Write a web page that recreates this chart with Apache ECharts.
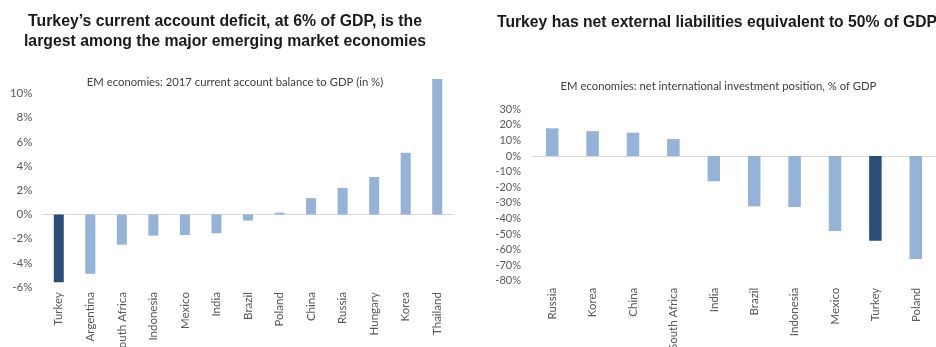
<!DOCTYPE html>
<html>
<head>
<meta charset="utf-8">
<script src="https://cdn.jsdelivr.net/npm/echarts@6/dist/echarts.min.js"></script>
<style>
  html, body { margin: 0; padding: 0; background: #ffffff; }
  #chart { width: 936px; height: 347px; }
</style>
</head>
<body>
<div id="chart"></div>
<script>
// Panel 1: 2017 current account balance, % of GDP
const caCountries = ['Turkey', 'Argentina', 'South Africa', 'Indonesia', 'Mexico', 'India',
  'Brazil', 'Poland', 'China', 'Russia', 'Hungary', 'Korea', 'Thailand'];
const caValues = [-5.6, -4.9, -2.5, -1.75, -1.7, -1.55, -0.5, 0.15, 1.35, 2.2, 3.1, 5.1, 11.2];
const caTicks = [-6, -4, -2, 0, 2, 4, 6, 8, 10];

// Panel 2: net international investment position, % of GDP
const niipCountries = ['Russia', 'Korea', 'China', 'South Africa', 'India', 'Brazil',
  'Indonesia', 'Mexico', 'Turkey', 'Poland'];
const niipValues = [17.8, 16.0, 15.0, 10.9, -16.2, -32.3, -32.7, -48.1, -54.3, -66.1];
const niipTicks = [-80, -70, -60, -50, -40, -30, -20, -10, 0, 10, 20, 30];

const highlight = 'Turkey';
const DARK = '#2c4d75';
const LIGHT = '#95b3d7';
const LABEL_FONT = 'Lato, "Open Sans", sans-serif';
const TITLE_FONT = '"Liberation Sans", Arial, sans-serif';

function barData(names, values) {
  return values.map((v, i) => ({
    value: v,
    itemStyle: { color: names[i] === highlight ? DARK : LIGHT }
  }));
}

function tickFormatter(ticks) {
  return v => (ticks.indexOf(v) >= 0 ? v + '%' : '');
}

const chart = echarts.init(document.getElementById('chart'), null, { renderer: 'canvas' });

const catLabel = {
  rotate: 90,
  fontFamily: LABEL_FONT,
  fontSize: 11.5,
  color: '#595959'
};

chart.setOption({
  animation: false,
  backgroundColor: '#ffffff',
  grid: [
    { left: 43, top: 69.3, width: 410, height: 217.8, outerBoundsMode: 'none', containLabel: false },
    { left: 532, top: 109.3, width: 404, height: 171.4, outerBoundsMode: 'none', containLabel: false }
  ],
  xAxis: [
    // labels along the bottom of panel 1
    {
      type: 'category', gridIndex: 0, data: caCountries,
      axisLine: { show: false, onZero: false }, axisTick: { show: false },
      axisLabel: Object.assign({ margin: 5 }, catLabel)
    },
    // zero line of panel 1
    {
      type: 'category', gridIndex: 0, data: caCountries, position: 'bottom',
      axisLine: { show: true, onZero: true, lineStyle: { color: '#d9d9d9', width: 1 } },
      axisTick: { show: false }, axisLabel: { show: false }
    },
    {
      type: 'category', gridIndex: 1, data: niipCountries,
      axisLine: { show: false, onZero: false }, axisTick: { show: false },
      axisLabel: Object.assign({ margin: 7 }, catLabel)
    },
    {
      type: 'category', gridIndex: 1, data: niipCountries, position: 'bottom',
      axisLine: { show: true, onZero: true, lineStyle: { color: '#d9d9d9', width: 1 } },
      axisTick: { show: false }, axisLabel: { show: false }
    }
  ],
  yAxis: [
    {
      type: 'value', gridIndex: 0, min: -6, max: 12, interval: 2,
      axisLine: { show: false }, axisTick: { show: false }, splitLine: { show: false },
      axisLabel: {
        formatter: tickFormatter(caTicks), margin: 10.5,
        fontFamily: LABEL_FONT, fontSize: 11.5, color: '#595959',
        padding: [0, 0, 9, 0]
      }
    },
    {
      type: 'value', gridIndex: 1, min: -80, max: 30, interval: 10,
      axisLine: { show: false }, axisTick: { show: false }, splitLine: { show: false },
      axisLabel: {
        formatter: tickFormatter(niipTicks), margin: 11,
        fontFamily: LABEL_FONT, fontSize: 11, color: '#595959'
      }
    }
  ],
  series: [
    {
      type: 'bar', xAxisIndex: 0, yAxisIndex: 0, barWidth: 10,
      data: barData(caCountries, caValues)
    },
    {
      type: 'bar', xAxisIndex: 2, yAxisIndex: 1, barWidth: 12.5,
      data: barData(niipCountries, niipValues)
    }
  ],
  graphic: [
    {
      type: 'text', x: 225, y: 32,
      style: {
        text: 'Turkey\u2019s current account deficit, at 6% of GDP, is the\nlargest among the major emerging market economies',
        fontFamily: TITLE_FONT, fontWeight: 'bold', fontSize: 15.8, lineHeight: 20,
        fill: '#1a1a1a', align: 'center', verticalAlign: 'middle'
      }
    },
    {
      type: 'text', x: 235, y: 82,
      style: {
        text: 'EM economies: 2017 current account balance to GDP (in %)',
        fontFamily: LABEL_FONT, fontSize: 11.3, fill: '#404040',
        align: 'center', verticalAlign: 'middle'
      }
    },
    {
      type: 'text', x: 497, y: 23,
      style: {
        text: 'Turkey has net external liabilities equivalent to 50% of GDP',
        fontFamily: TITLE_FONT, fontWeight: 'bold', fontSize: 15.7,
        fill: '#1a1a1a', align: 'left', verticalAlign: 'middle'
      }
    },
    {
      type: 'text', x: 718.5, y: 86,
      style: {
        text: 'EM economies: net international investment position, % of GDP',
        fontFamily: LABEL_FONT, fontSize: 11.3, fill: '#404040',
        align: 'center', verticalAlign: 'middle'
      }
    }
  ]
});
</script>
</body>
</html>
